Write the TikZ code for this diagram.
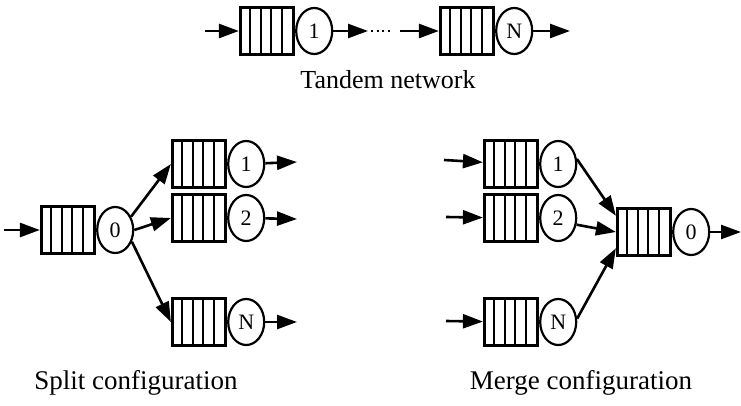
\documentclass[tikz,border=0pt]{standalone}
\usepackage{fontspec}
\setmainfont{Liberation Serif}
\usetikzlibrary{arrows.meta,shapes.geometric}
\begin{document}
\begin{tikzpicture}[x=1pt,y=-1pt,
  qbox/.style={draw, line width=2.2pt, minimum width=54pt, minimum height=47pt, inner sep=0pt,
    path picture={
      \foreach \i in {1,...,4}
        \draw[line width=2pt] ([xshift=\i*10.4pt]path picture bounding box.north west) -- ([xshift=\i*10.4pt]path picture bounding box.south west);
      \draw[line width=5pt] (path picture bounding box.north east) -- (path picture bounding box.south east);
      \draw[line width=3.5pt] (path picture bounding box.north west) -- (path picture bounding box.south west);
    }},
  qsrv/.style={ellipse, draw, line width=2.2pt, minimum width=36pt, minimum height=46pt, inner sep=0pt,
    font=\fontsize{22}{22}\selectfont},
  arr/.style={line width=2.6pt, -{Triangle[length=20pt,width=14pt]}},
  captext/.style={font=\fontsize{27}{27}\selectfont}
]
\useasboundingbox (0,0) rectangle (741,406);
\newcommand\queue[4]{%
  \node[qbox] (#1b) at (#2,#3) {};
  \node[qsrv, anchor=west] (#1c) at (#1b.east) {#4};}

% Tandem
\queue{ta}{267}{31}{1}
\queue{tn}{467}{31}{N}
\coordinate (tain) at (205,31);
\coordinate (taout) at (368,31);
\coordinate (dotA) at (371,31);
\coordinate (dotB) at (392,31);
\coordinate (tnin) at (400,31);
\coordinate (tnout) at (570,31);
\draw[arr] (tain) -- (tab);
\draw[arr] (tac) -- (taout);
\draw[line width=2pt, dash pattern=on 2pt off 3.5pt] (dotA) -- (dotB);
\draw[arr] (tnin) -- (tnb);
\draw[arr] (tnc) -- (tnout);
\node[font=\fontsize{26}{26}\selectfont] (tcap) at (388,80) {Tandem network};

% Split
\queue{s0}{68}{230}{0}
\queue{s1}{199}{164}{1}
\queue{s2}{199}{218}{2}
\queue{s3}{199}{322}{N}
\coordinate (s0in) at (4,230);
\coordinate (s1out) at (297,162);
\coordinate (s2out) at (297,219);
\coordinate (s3out) at (297,322);
\draw[arr] (s0in) -- (s0b);
\draw[arr] (s0c.40) -- (s1b.west);
\draw[arr] (s0c.east) -- (s2b.west);
\draw[arr] (s0c.-35) -- (s3b.west);
\draw[arr] (s1c) -- (s1out);
\draw[arr] (s2c) -- (s2out);
\draw[arr] (s3c) -- (s3out);
\node[captext] (scap) at (136,383) {Split configuration};

% Merge
\queue{m1}{511}{164}{1}
\queue{m2}{511}{218}{2}
\queue{m3}{511}{322}{N}
\queue{m0}{644}{232}{0}
\coordinate (m1in) at (444,160);
\coordinate (m2in) at (446,217);
\coordinate (m3in) at (446,321);
\coordinate (m0out) at (741,232);
\draw[arr] (m1in) -- (m1b);
\draw[arr] (m2in) -- (m2b);
\draw[arr] (m3in) -- (m3b);
\draw[arr] (m1c.15) -- (m0b.150);
\draw[arr] (m2c.-20) -- (m0b.west);
\draw[arr] (m3c.10) -- (m0b.210);
\draw[arr] (m0c) -- (m0out);
\node[captext] (mcap) at (581,383) {Merge configuration};
\end{tikzpicture}
\end{document}
